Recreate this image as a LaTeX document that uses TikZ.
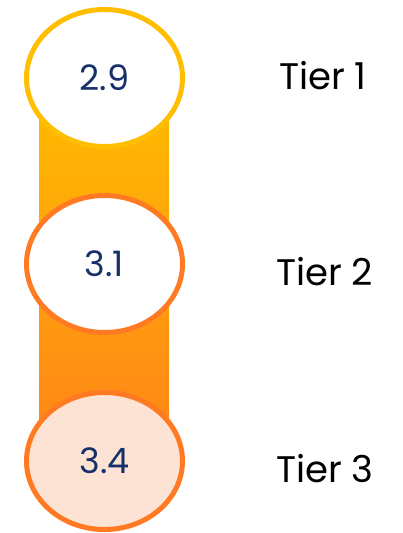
\documentclass[tikz,border=0pt]{standalone}
\usepackage{fontspec}
\setmainfont{Poppins}
\usepackage{xcolor}
\usetikzlibrary{shapes.geometric}
\definecolor{gold}{HTML}{FFBF00}
\definecolor{tangerine}{HTML}{FF7A22}
\definecolor{peach}{HTML}{FDE3D4}
\definecolor{navy}{HTML}{172F6A}
\definecolor{bartop}{HTML}{FFBE00}
\definecolor{barbot}{HTML}{FF8219}

\begin{document}
\begin{tikzpicture}[x=1pt,y=-1pt,
tier/.style={ellipse,draw,line width=5pt,minimum width=156pt,minimum height=137pt,
  inner sep=0pt,fill=white,text=navy,font=\fontsize{35}{35}\selectfont},
lbl/.style={anchor=west,inner sep=0pt,font=\fontsize{37}{37}\selectfont}]
\useasboundingbox (0,0) rectangle (403,533);

% gradient bar behind the scores
\shade[top color=bartop,bottom color=barbot] (39,78) rectangle (169,461);

\node (s1) at (104.5,78) [tier,draw=gold] {2.9};
\node (s2) at (104.5,264) [tier,draw=tangerine] {3.1};
\node (s3) at (104.5,461) [tier,draw=tangerine,fill=peach] {3.4};

\node (t1) at (279,76) [lbl] {Tier 1};
\node (t2) at (276,272) [lbl] {Tier 2};
\node (t3) at (276,469) [lbl] {Tier 3};

\end{tikzpicture}
\end{document}
